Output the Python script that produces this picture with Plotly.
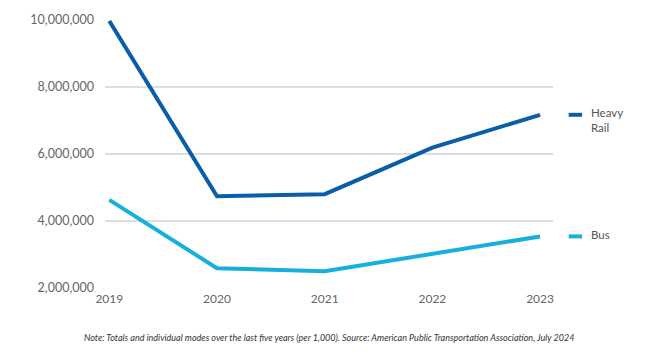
import plotly.graph_objects as go

years = [2019, 2020, 2021, 2022, 2023]
heavy_rail = [9970000, 4740000, 4800000, 6190000, 7170000]
bus = [4630000, 2590000, 2500000, 3030000, 3540000]
y_ticks = [2000000, 4000000, 6000000, 8000000, 10000000]
y_tick_labels = ["2,000,000", "4,000,000", "6,000,000", "8,000,000", "10,000,000"]
series_names = ["Heavy<br>Rail", "Bus"]
colors = ["#0A5EA8", "#17B0DD"]
note = ("Note: Totals and individual modes over the last five years (per 1,000). "
        "Source: American Public Transportation Association, July 2024")

FONT = "Lato, 'Open Sans', sans-serif"

fig = go.Figure()
for name, vals, col in zip(series_names, [heavy_rail, bus], colors):
    fig.add_trace(go.Scatter(x=years, y=vals, mode="lines", name=name,
                             line=dict(color=col, width=4), showlegend=False,
                             hoverinfo="skip"))

shapes = []
annotations = []
for name, vals, col in zip(series_names, [heavy_rail, bus], colors):
    shapes.append(dict(type="line", xref="paper", yref="y",
                       x0=1.035, x1=1.065, y0=vals[-1], y1=vals[-1],
                       line=dict(color=col, width=4)))
    multi = "<br>" in name
    annotations.append(dict(xref="paper", yref="y", x=1.08, y=vals[-1],
                            text=name, showarrow=False, xanchor="left",
                            yanchor="top" if multi else "middle",
                            yshift=11 if multi else 2,
                            align="left",
                            font=dict(family=FONT, size=11.5, color="#555")))
annotations.append(dict(xref="paper", yref="paper", x=0.5, y=-0.185,
                        text="<i>" + note + "</i>", showarrow=False,
                        xanchor="center", yanchor="middle",
                        font=dict(family=FONT, size=9, color="#333")))

fig.update_layout(
    width=645, height=363,
    margin=dict(l=105, r=92, t=17, b=75),
    paper_bgcolor="white", plot_bgcolor="white",
    font=dict(family=FONT, size=12, color="#666"),
    shapes=shapes, annotations=annotations,
    xaxis=dict(range=[2018.96, 2023.12], tickvals=years,
               ticktext=[str(y) for y in years], showgrid=False,
               zeroline=False, showline=False, ticks="",
               ticklabelstandoff=2,
               tickfont=dict(family=FONT, size=12, color="#666")),
    yaxis=dict(range=[2000000, 10000000], tickvals=y_ticks,
               ticktext=y_tick_labels, showgrid=True, gridcolor="#DDDDDD",
               gridwidth=1.5, zeroline=False, showline=False, ticks="",
               ticklabelstandoff=10,
               tickfont=dict(family=FONT, size=12.5, color="#666")),
)

fig.write_html("out.html", config={"displayModeBar": False},
               post_script="document.body.style.margin='0';document.body.style.overflow='hidden';")
